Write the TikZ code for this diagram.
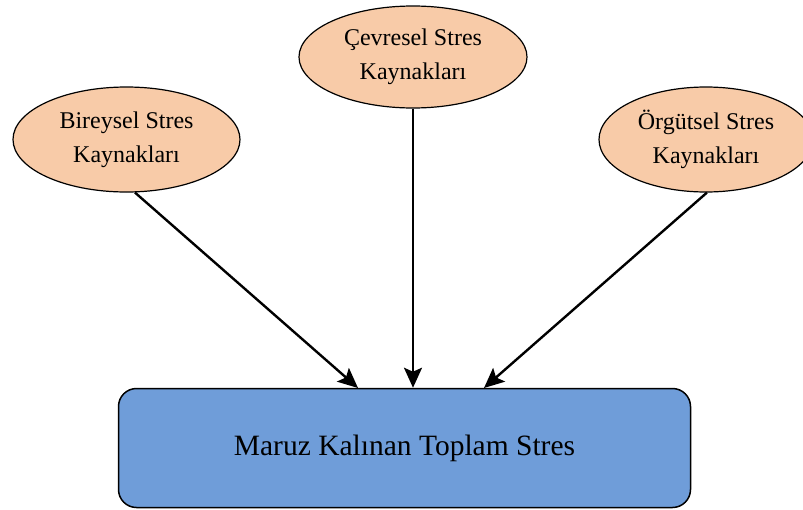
\documentclass[tikz,border=0pt]{standalone}
\usepackage{fontspec}
\setmainfont{Liberation Serif}
\usetikzlibrary{arrows.meta,shapes.geometric}
\definecolor{peach}{HTML}{F8CBA8}
\definecolor{boxblue}{HTML}{6F9DD9}
\begin{document}
\begin{tikzpicture}[x=1pt,y=-1pt,
  src/.style={ellipse,draw=black,line width=1.2pt,fill=peach,inner sep=0pt,
    align=center,font=\fontsize{24}{34}\selectfont},
  conn/.style={line width=2.4pt,-{Stealth[length=20pt,width=18pt,inset=4pt]}}]
\useasboundingbox (0,0) rectangle (803,509);
\clip (0,0) rectangle (803,509);
\node[src,minimum width=227pt,minimum height=105pt] (l) at (126.5,139.5) {Bireysel Stres\\Kaynakları};
\node[src,minimum width=228pt,minimum height=102pt] (m) at (413,57) {Çevresel Stres\\Kaynakları};
\node[src,minimum width=214pt,minimum height=105pt] (r) at (706,139.5) {Örgütsel Stres\\Kaynakları};
\node[draw=black,line width=1.5pt,fill=boxblue,rounded corners=18pt,
  minimum width=572pt,minimum height=119pt,inner sep=0pt,
  font=\fontsize{29.5}{34}\selectfont] (b) at (404.5,448) {Maruz Kalınan Toplam Stres};
\coordinate (t1) at (358,388);
\coordinate (t3) at (484,388);
\draw[conn] (l.-81) -- (t1);
\draw[conn] (m.south) -- (m.south |- b.north);
\draw[conn] (r.-89) -- (t3);
\end{tikzpicture}
\end{document}
